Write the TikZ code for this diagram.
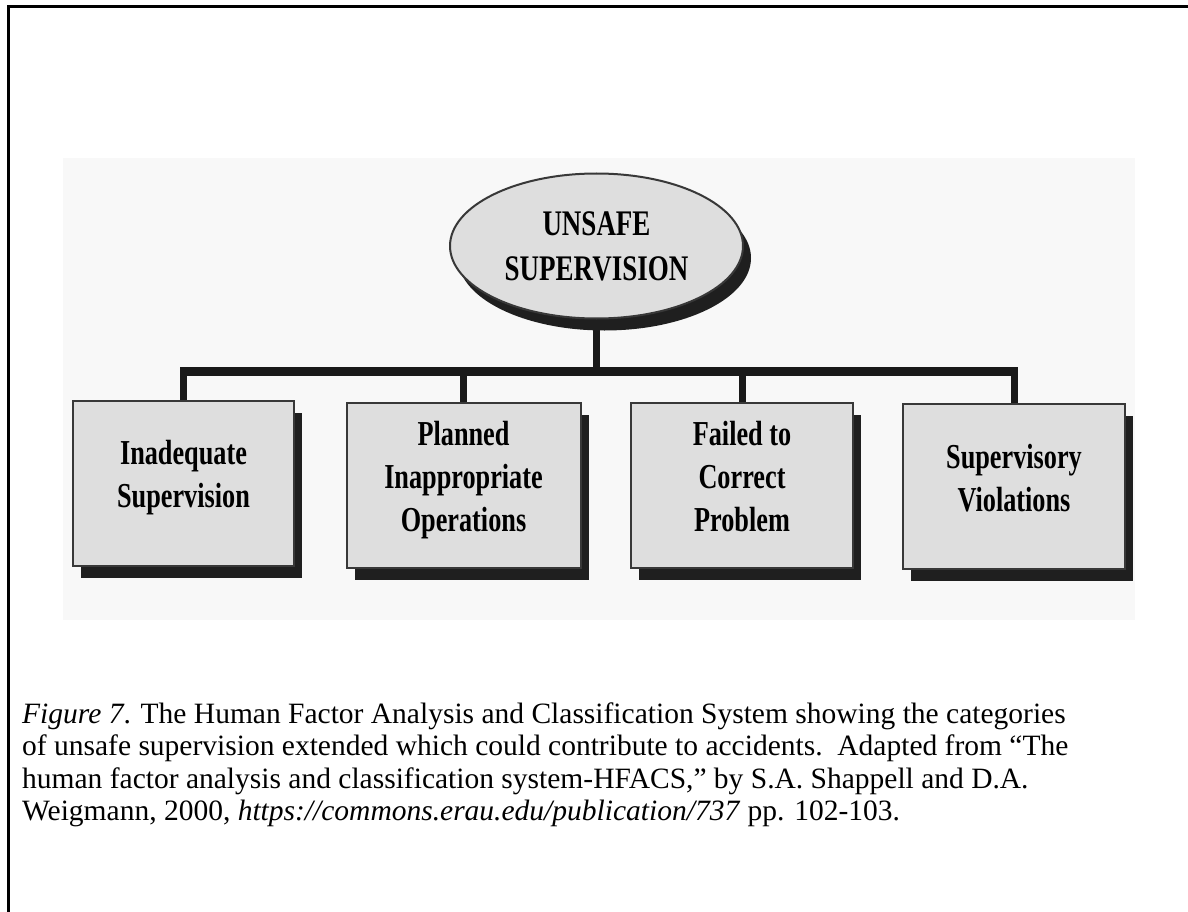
\documentclass[tikz,border=0pt]{standalone}
\usepackage{fontspec}
\setmainfont{Liberation Serif}
\newfontfamily\diagfont{Liberation Serif}[FakeStretch=0.75]
\usetikzlibrary{shapes.geometric,shadows,backgrounds}
\definecolor{panel}{gray}{0.972}
\definecolor{boxfill}{gray}{0.87}
\definecolor{edge}{gray}{0.22}
\definecolor{shade}{gray}{0.12}
\definecolor{ink}{gray}{0.1}

\begin{document}
\begin{tikzpicture}[x=1pt,y=-1pt,
  solid shadow/.style={drop shadow={shadow xshift=8pt,shadow yshift=-12pt,fill=shade,opacity=1}},
  catbox/.style={rectangle, draw=edge, line width=2pt, fill=boxfill,
    minimum height=165pt, inner sep=0pt, align=center,
    font=\diagfont\bfseries\fontsize{35}{43}\selectfont, text depth=18pt, solid shadow},
  headoval/.style={ellipse, draw=edge, line width=2pt, fill=boxfill,
    minimum width=293pt, minimum height=145pt, inner sep=0pt, align=center,
    font=\diagfont\bfseries\fontsize{36}{45}\selectfont, solid shadow},
  bus/.style={draw=ink, line width=9pt},
  drop/.style={draw=ink, line width=7pt},
  capline/.style={anchor=base west, inner sep=0pt, font=\fontsize{29.5}{32.5}\selectfont}]

\useasboundingbox (0,0) rectangle (1188,912);

% page frame (top and left edges)
\coordinate (frameTR) at (1192,7);
\coordinate (frameTL) at (8,7);
\coordinate (frameBL) at (8,916);
\draw[line width=3pt] (frameTR) -- (frameTL) -- (frameBL);

% light panel behind the chart
\begin{scope}[on background layer]
  \fill[panel] (63,158) rectangle (1135,620);
\end{scope}

% chart nodes
\node[headoval] (head) at (596.5,246) {UNSAFE\\SUPERVISION};
\node[catbox, minimum width=221pt] (c1) at (183.5,483) {Inadequate\\Supervision};
\node[catbox, minimum width=234pt] (c2) at (463.5,485) {Planned\\Inappropriate\\Operations};
\node[catbox, minimum width=222pt] (c3) at (742,485.5) {Failed to\\Correct\\Problem};
\node[catbox, minimum width=222pt] (c4) at (1014,486.5) {Supervisory\\Violations};

% connectors
\coordinate (busL) at (183.5,371);
\coordinate (busR) at (1014,371);
\begin{scope}[on background layer]
  \draw[bus, shorten <=-3.5pt, shorten >=-3.5pt] (busL) -- (busR);
  \draw[drop] (head.south) -- (head.south |- busL);
  \foreach \c in {c1,c2,c3,c4} \draw[drop] (\c.north) -- (\c.north |- busL);
\end{scope}

% caption
\node[capline] (cap1) at (22,723) {\textit{Figure 7}. The Human Factor Analysis and Classification System showing the categories};
\node[capline] (cap2) at (22,755) {of unsafe supervision extended which could contribute to accidents.\ \ Adapted from “The};
\node[capline] (cap3) at (22,788) {human factor analysis and classification system-HFACS,” by S.A. Shappell and D.A.};
\node[capline] (cap4) at (22,820) {Weigmann, 2000, \textit{https://commons.erau.edu/publication/737} pp. 102-103.};
\end{tikzpicture}
\end{document}
